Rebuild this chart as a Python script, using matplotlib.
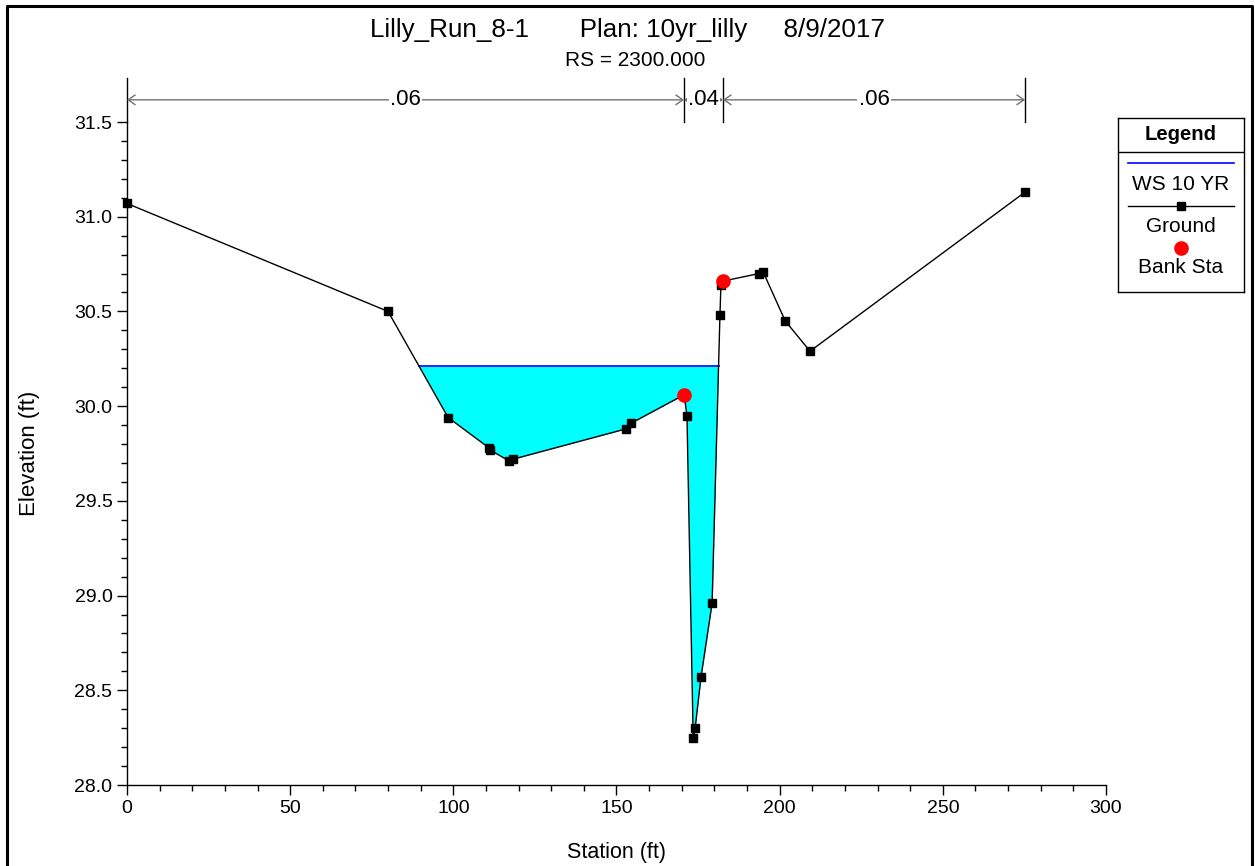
import numpy as np
import matplotlib
matplotlib.use("Agg")
import matplotlib.pyplot as plt
from matplotlib.lines import Line2D

plt.rcParams['font.family'] = ['Liberation Sans', 'DejaVu Sans']

# ---------------------------------------------
# Data
# ---------------------------------------------
station = [0, 80, 98.4, 110.9, 111.2, 117.1, 118.3, 152.9, 154.5, 170.7,
           171.6, 173.5, 174.1, 175.9, 179.3, 181.7, 182.0, 182.6, 193.7,
           194.9, 201.7, 209.3, 275.2]
elevation = [31.07, 30.50, 29.94, 29.78, 29.77, 29.71, 29.72, 29.88, 29.91,
             30.06, 29.95, 28.25, 28.30, 28.57, 28.96, 30.48, 30.64, 30.66,
             30.70, 30.71, 30.45, 30.29, 31.13]
bank_sta = [170.7, 182.6]
bank_elev = [30.06, 30.66]
ws_10yr = 30.21

n_breaks = [0, 170.7, 182.6, 275.2]
n_values = [".06", ".04", ".06"]

title = "Lilly_Run_8-1       Plan: 10yr_lilly     8/9/2017"
subtitle = "RS = 2300.000"


def ws_crossings(sta, elev, ws):
    """first and last station where the ground crosses the water surface"""
    xs = []
    for i in range(len(sta) - 1):
        e0, e1 = elev[i], elev[i + 1]
        if (e0 - ws) * (e1 - ws) < 0:
            t = (ws - e0) / (e1 - e0)
            xs.append(sta[i] + t * (sta[i + 1] - sta[i]))
    return xs[0], xs[-1]


fig = plt.figure(figsize=(12.55, 8.66), dpi=100)
W, H = 1255, 866
ax = fig.add_axes([127 / W, 1 - 785 / H, (1106 - 127) / W, (785 - 122) / H])

sta = np.array(station)
elev = np.array(elevation)
x_left, x_right = ws_crossings(station, elevation, ws_10yr)

# water fill + water surface line
ax.fill_between(sta, elev, ws_10yr, where=elev <= ws_10yr, interpolate=True,
                color='#00ffff', lw=0, zorder=1)
ax.plot([x_left, x_right], [ws_10yr, ws_10yr], color='blue', lw=1.2, zorder=2)

# ground + bank stations
ax.plot(sta, elev, color='black', lw=1.0, marker='s', ms=5.8,
        mfc='black', mec='black', zorder=3, clip_on=False)
ax.plot(bank_sta, bank_elev, 'o', color='red', ms=9.5, zorder=4)

ax.set_xlim(0, 300)
ax.set_ylim(28.0, 31.5)
ax.set_xticks(np.arange(0, 301, 50))
ax.set_xticks(np.arange(0, 301, 10), minor=True)
ax.set_yticks(np.arange(28.0, 31.51, 0.5))
ax.set_yticks(np.arange(28.0, 31.51, 0.1), minor=True)
ax.set_yticklabels([f"{v:.1f}" for v in np.arange(28.0, 31.51, 0.5)])
ax.tick_params(which='major', direction='out', length=7, width=1, labelsize=14)
ax.tick_params(which='minor', direction='out', length=4, width=1)
for s in ['top', 'right']:
    ax.spines[s].set_visible(False)
for s in ['left', 'bottom']:
    ax.spines[s].set_linewidth(1)

ax.set_xlabel("Station (ft)", fontsize=15.5)
ax.set_ylabel("Elevation (ft)", fontsize=16)
ax.xaxis.set_label_coords(0.5, -0.086)
ax.yaxis.set_label_coords(-0.089, 0.5)

# Manning's n bars above the plot
y_arrow = 31.617
y_top = 31.73
for xb in n_breaks:
    ax.plot([xb, xb], [31.5, y_top], color='black', lw=1, clip_on=False)
for i, lab in enumerate(n_values):
    x0, x1 = n_breaks[i], n_breaks[i + 1]
    ax.annotate('', xy=(x1, y_arrow), xytext=(x0, y_arrow),
                arrowprops=dict(arrowstyle='<->,head_length=0.5,head_width=0.35',
                                color='#707070', lw=1, shrinkA=0, shrinkB=0),
                annotation_clip=False)
    ax.text((x0 + x1) / 2, y_arrow, lab, ha='center', va='center',
            fontsize=16, clip_on=False,
            bbox=dict(facecolor='white', edgecolor='none', pad=1))

fig.text(627 / W, 1 - 30 / H, title, ha='center', va='center', fontsize=18.7)
fig.text(635 / W, 1 - 61 / H, subtitle, ha='center', va='center', fontsize=15)

# legend box drawn by hand
lg = fig.add_axes([1118 / W, 1 - 292 / H, 126 / W, 174 / H])
lg.set_xlim(0, 1)
lg.set_ylim(0, 1)
lg.set_xticks([])
lg.set_yticks([])
for s in lg.spines.values():
    s.set_linewidth(1)
lg.text(0.5, 0.908, "Legend", ha='center', va='center', fontsize=14.6,
        fontweight='bold')
lg.plot([0, 1], [0.805, 0.805], color='black', lw=1)
lg.plot([0.08, 0.92], [0.741, 0.741], color='blue', lw=1.2)
lg.text(0.5, 0.615, "WS 10 YR", ha='center', va='center', fontsize=15)
lg.plot([0.08, 0.92], [0.494, 0.494], color='black', lw=1)
lg.plot([0.5], [0.494], 's', color='black', ms=5.8)
lg.text(0.5, 0.379, "Ground", ha='center', va='center', fontsize=15)
lg.plot([0.5], [0.253], 'o', color='red', ms=9.5)
lg.text(0.5, 0.138, "Bank Sta", ha='center', va='center', fontsize=15)

# outer frame (no bottom edge visible)
fig.add_artist(Line2D([7 / W, 7 / W, 1252 / W, 1252 / W],
                      [0, 1 - 6 / H, 1 - 6 / H, 0],
                      transform=fig.transFigure, color='black', lw=2.2))

fig.savefig("out.png", dpi=100)
